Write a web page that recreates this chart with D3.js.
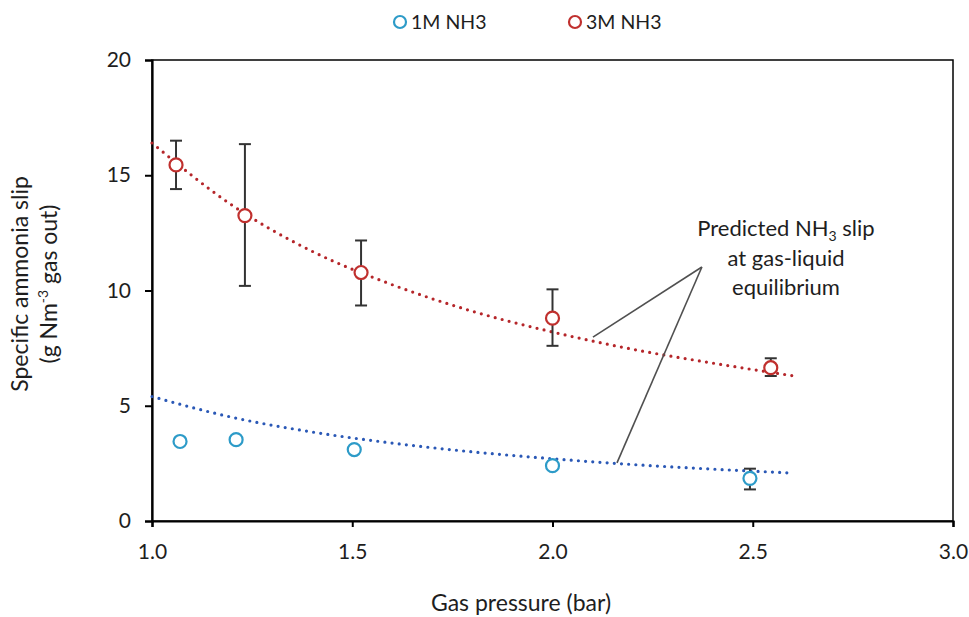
<!DOCTYPE html>
<html>
<head>
<meta charset="utf-8">
<script src="https://cdn.jsdelivr.net/npm/d3@7"></script>
<style>
  html, body { margin: 0; padding: 0; background: #fff; }
  svg { display: block; font-family: Lato, "Open Sans", sans-serif; }
</style>
</head>
<body>
<svg id="chart" width="969" height="617"></svg>
<script>
// ---- Data ----
const seriesNames = ["1M NH3", "3M NH3"];

const pressure1M = [1.07, 1.21, 1.505, 2.0, 2.493];
const slip1M     = [3.45, 3.53, 3.10, 2.40, 1.85];
const errLow1M   = [null, null, null, null, 1.37];
const errHigh1M  = [null, null, null, null, 2.27];

const pressure3M = [1.06, 1.232, 1.522, 2.0, 2.545];
const slip3M     = [15.45, 13.25, 10.78, 8.8, 6.65];
const errLow3M   = [14.4, 10.2, 9.35, 7.6, 6.29];
const errHigh3M  = [16.5, 16.35, 12.17, 10.05, 7.06];

// predicted (gas-liquid equilibrium) curves
const predPressure = [1.0, 1.2, 1.4, 1.6, 1.8, 2.0, 2.2, 2.4, 2.6];
const pred1M = [5.4, 4.5, 3.86, 3.38, 3.0, 2.7, 2.45, 2.25, 2.08];
const pred3M = [16.4, 13.7, 11.7, 10.25, 9.1, 8.2, 7.45, 6.85, 6.3];

const xTicks = [1.0, 1.5, 2.0, 2.5, 3.0];
const yTicks = [0, 5, 10, 15, 20];

// annotation: apex and the two curve points (data units)
const annotApex = [2.373, 11.02];
const annotTargets = [[2.101, 7.98], [2.161, 2.52]];
const annotText = [2.583, 12.35];

// ---- Layout ----
const W = 969, H = 617;
const margin = { top: 60, right: 16, bottom: 96, left: 152 };
const svg = d3.select("#chart");
const x = d3.scaleLinear().domain([1.0, 3.0]).range([margin.left, W - margin.right]);
const y = d3.scaleLinear().domain([0, 20]).range([H - margin.bottom, margin.top]);

const colBlue = "#2d9bc8", colRed = "#c0302e";
const colBlueLine = "#2a58b6", colRedLine = "#b5262a";
const tickFont = 21, titleFont = 23, annFont = 22, legendFont = 19.5;
const textCol = "#1e1e1e";

// Frame
svg.append("rect")
  .attr("x", x(1)).attr("y", y(20))
  .attr("width", x(3) - x(1)).attr("height", y(0) - y(20))
  .attr("fill", "none").attr("stroke", "#000").attr("stroke-width", 1.5);

// Axes
const xAxis = svg.append("g")
  .attr("transform", `translate(0,${y(0)})`)
  .call(d3.axisBottom(x).tickValues(xTicks).tickFormat(d3.format(".1f")).tickSize(6).tickPadding(17));
const yAxis = svg.append("g")
  .attr("transform", `translate(${x(1)},0)`)
  .call(d3.axisLeft(y).tickValues(yTicks).tickFormat(d3.format("d")).tickSize(7).tickPadding(14));
[xAxis, yAxis].forEach(g => {
  g.select(".domain").attr("stroke", "#000").attr("stroke-width", 2.2);
  g.selectAll(".tick line").attr("stroke", "#000").attr("stroke-width", 2);
  g.selectAll(".tick text").attr("font-size", tickFont).attr("fill", textCol)
    .attr("font-family", "Lato, 'Open Sans', sans-serif");
});

// Predicted curves (dotted)
const line = d3.line().x(d => x(d[0])).y(d => y(d[1])).curve(d3.curveMonotoneX);
[[pred3M, colRedLine], [pred1M, colBlueLine]].forEach(([vals, c]) => {
  svg.append("path")
    .datum(predPressure.map((p, i) => [p, vals[i]]))
    .attr("d", line)
    .attr("fill", "none").attr("stroke", c)
    .attr("stroke-width", 3.2).attr("stroke-linecap", "round")
    .attr("stroke-dasharray", "0 7.2");
});

// Error bars
function errorBars(px, lo, hi) {
  const g = svg.append("g").attr("stroke", "#333").attr("stroke-width", 2);
  px.forEach((p, i) => {
    if (lo[i] == null) return;
    const cx = x(p);
    g.append("line").attr("x1", cx).attr("x2", cx).attr("y1", y(lo[i])).attr("y2", y(hi[i]));
    g.append("line").attr("x1", cx - 6).attr("x2", cx + 6).attr("y1", y(lo[i])).attr("y2", y(lo[i]));
    g.append("line").attr("x1", cx - 6).attr("x2", cx + 6).attr("y1", y(hi[i])).attr("y2", y(hi[i]));
  });
}
errorBars(pressure3M, errLow3M, errHigh3M);
errorBars(pressure1M, errLow1M, errHigh1M);

// Markers
function markers(px, vals, c) {
  svg.append("g").selectAll("circle").data(px.map((p, i) => [p, vals[i]])).join("circle")
    .attr("cx", d => x(d[0])).attr("cy", d => y(d[1])).attr("r", 6.5)
    .attr("fill", "#fff").attr("stroke", c).attr("stroke-width", 2.2);
}
markers(pressure3M, slip3M, colRed);
markers(pressure1M, slip1M, colBlue);

// Annotation lines
const ann = svg.append("g").attr("stroke", "#505050").attr("stroke-width", 1.6);
annotTargets.forEach(t => {
  ann.append("line")
    .attr("x1", x(annotApex[0])).attr("y1", y(annotApex[1]))
    .attr("x2", x(t[0])).attr("y2", y(t[1]));
});

// Annotation text
const at = svg.append("text")
  .attr("x", x(annotText[0])).attr("y", y(annotText[1]))
  .attr("text-anchor", "middle").attr("font-size", annFont).attr("fill", textCol);
const l1 = at.append("tspan").attr("x", x(annotText[0])).attr("dy", 0);
l1.append("tspan").text("Predicted NH");
l1.append("tspan").text("3").attr("font-size", 14).attr("dy", 5);
l1.append("tspan").text(" slip").attr("dy", -5);
at.append("tspan").attr("x", x(annotText[0])).attr("dy", 30).text("at gas-liquid");
at.append("tspan").attr("x", x(annotText[0])).attr("dy", 29).text("equilibrium");

// Legend
const legend = svg.append("g");
const legendX = [400, 575];
[[colBlue, seriesNames[0]], [colRed, seriesNames[1]]].forEach(([c, name], i) => {
  legend.append("circle").attr("cx", legendX[i]).attr("cy", 22).attr("r", 6)
    .attr("fill", "#fff").attr("stroke", c).attr("stroke-width", 2.2);
  legend.append("text").attr("x", legendX[i] + 11).attr("y", 29)
    .attr("font-size", legendFont).attr("fill", textCol).text(name);
});

// Axis titles
svg.append("text")
  .attr("x", 521).attr("y", 611)
  .attr("text-anchor", "middle").attr("font-size", titleFont).attr("fill", textCol)
  .text("Gas pressure (bar)");

const yt = svg.append("text")
  .attr("transform", `translate(28,284) rotate(-90)`)
  .attr("text-anchor", "middle").attr("font-size", titleFont).attr("fill", textCol);
yt.append("tspan").attr("x", 0).attr("dy", 0).text("Specific ammonia slip");
const yl2 = yt.append("tspan").attr("x", 0).attr("dy", 29);
yl2.append("tspan").text("(g Nm");
yl2.append("tspan").text("-3").attr("font-size", 14).attr("dy", -9);
yl2.append("tspan").text(" gas out)").attr("dy", 9);
</script>
</body>
</html>
